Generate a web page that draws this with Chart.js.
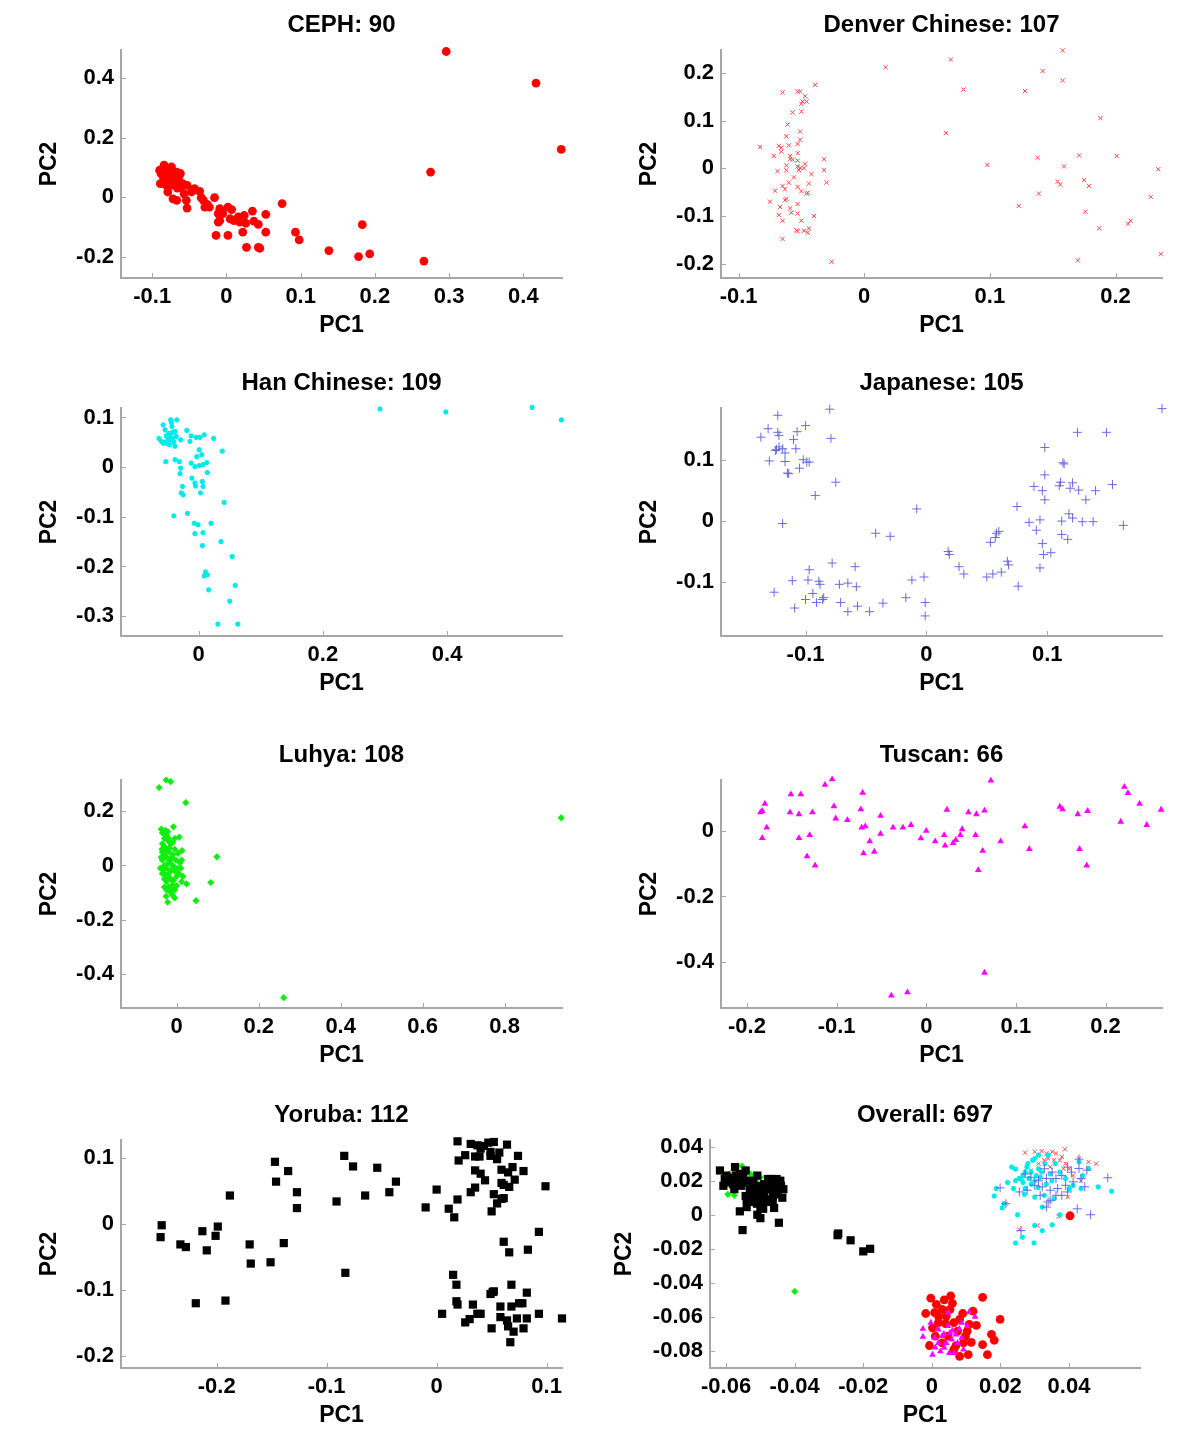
<!DOCTYPE html>
<html>
<head>
<meta charset="utf-8">
<script src="https://cdn.jsdelivr.net/npm/chart.js@4/dist/chart.umd.min.js"></script>
<style>
  body { margin: 0; background: #fff; width: 1200px; height: 1454px; position: relative; overflow: hidden; }
  canvas { position: absolute; }
</style>
</head>
<body>
<canvas id="c0" width="600" height="360" style="left:0;top:0"></canvas>
<canvas id="c1" width="600" height="360" style="left:600px;top:0"></canvas>
<canvas id="c2" width="600" height="360" style="left:0;top:358px"></canvas>
<canvas id="c3" width="600" height="360" style="left:600px;top:358px"></canvas>
<canvas id="c4" width="600" height="360" style="left:0;top:730px"></canvas>
<canvas id="c5" width="600" height="360" style="left:600px;top:730px"></canvas>
<canvas id="c6" width="600" height="360" style="left:0;top:1090px"></canvas>
<canvas id="c7" width="600" height="360" style="left:600px;top:1090px"></canvas>
<script>
// ---- data: [PC1, PC2] ----
const cephPts = [[0.296,0.489],[0.417,0.383],[0.451,0.160],[0.275,0.084],[0.183,-0.093],[0.193,-0.191],[0.178,-0.200],[0.138,-0.180],[0.266,-0.215],[0.075,-0.022],[0.093,-0.118],[0.098,-0.144],[0.053,-0.058],[0.053,-0.118],[0.043,-0.169],[0.045,-0.172],[0.027,-0.169],[0.035,-0.047],[0.037,-0.081],[0.043,-0.092],[0.022,-0.118],[0.024,-0.062],[0.020,-0.073],[0.016,-0.067],[0.007,-0.042],[0.002,-0.034],[0.005,-0.073],[0.002,-0.129],[-0.014,-0.129],[-0.009,-0.039],[-0.011,-0.056],[-0.009,-0.079],[-0.011,-0.084],[-0.016,-0.002],[-0.026,-0.025],[-0.029,-0.034],[-0.034,-0.002],[-0.036,0.019],[-0.043,0.028],[-0.054,-0.011],[-0.053,-0.037],[-0.057,0.011],[-0.053,0.039],[-0.062,0.079],[-0.067,0.045],[-0.067,-0.011],[-0.072,-0.006],[-0.079,0.017],[-0.089,0.045],[-0.090,0.090],[-0.084,0.107],[-0.078,0.067],[-0.080,0.084],[-0.072,0.079],[-0.075,0.051],[-0.085,0.067],[-0.070,0.062],[-0.065,0.056],[-0.059,0.045],[-0.074,0.101],[-0.067,0.084],[-0.081,0.039],[-0.088,0.079],[-0.062,0.034],[-0.047,0.017],[-0.031,-0.011],[-0.023,-0.034],[-0.005,-0.056],[0.010,-0.079],[0.018,-0.084],[0.026,-0.088],[-0.082,0.075],[-0.077,0.060],[-0.070,0.070],[-0.073,0.040],[-0.068,0.055],[-0.064,0.068],[-0.076,0.090],[-0.080,0.050],[-0.071,0.085],[-0.066,0.030]];

const denverPts = [[0.017,0.212],[0.069,0.228],[0.079,0.165],[0.065,0.074],[0.098,0.007],[0.158,0.247],[0.142,0.204],[0.158,0.184],[0.128,0.162],[0.188,0.105],[0.138,0.022],[0.171,0.027],[0.201,0.026],[0.159,0.004],[0.234,-0.002],[0.154,-0.028],[0.156,-0.034],[0.175,-0.025],[0.179,-0.037],[0.139,-0.053],[0.228,-0.060],[0.176,-0.091],[0.123,-0.079],[0.187,-0.126],[0.212,-0.110],[0.210,-0.116],[0.170,-0.193],[0.236,-0.180],[-0.026,-0.196],
  [-0.083,0.045],[-0.072,0.026],[-0.069,-0.006],[-0.068,0.047],[-0.065,0.159],[-0.066,0.043],[-0.066,0.035],[-0.062,0.067],[-0.061,0.092],[-0.060,0.048],[-0.059,0.026],[-0.062,0.006],[-0.062,-0.004],[-0.060,-0.030],[-0.071,-0.047],[-0.075,-0.070],[-0.065,-0.037],[-0.063,-0.044],[-0.062,-0.064],[-0.063,-0.067],[-0.067,-0.081],[-0.068,-0.098],[-0.065,-0.110],[-0.065,-0.148],[-0.059,-0.084],[-0.058,-0.093],[-0.057,0.117],[-0.053,0.051],[-0.053,0.032],[-0.053,0.161],[-0.051,0.161],[-0.051,0.077],[-0.051,0.060],[-0.050,0.119],[-0.050,0.135],[-0.049,0.140],[-0.047,0.151],[-0.046,0.140],[-0.039,0.175],[-0.053,0.016],[-0.053,0.004],[-0.052,-0.004],[-0.051,0.001],[-0.047,0.009],[-0.048,0.000],[-0.042,-0.012],[-0.044,-0.032],[-0.050,-0.048],[-0.046,-0.053],[-0.045,-0.051],[-0.053,-0.039],[-0.053,-0.075],[-0.053,-0.095],[-0.050,-0.110],[-0.054,-0.130],[-0.053,-0.132],[-0.048,-0.131],[-0.044,-0.126],[-0.045,-0.135],[-0.040,-0.100],[-0.032,0.019],[-0.032,-0.004],[-0.030,-0.030],[-0.057,0.018],[-0.059,0.019],[-0.056,-0.019]];

const hanPts = [[0.292,0.117],[0.398,0.111],[0.537,0.120],[0.584,0.095],
  [-0.064,0.058],[-0.057,0.085],[-0.054,0.075],[-0.051,0.048],[-0.048,0.068],[-0.045,0.095],[-0.043,0.082],[-0.041,0.058],[-0.038,0.042],[-0.035,0.095],[-0.045,0.055],[-0.049,0.055],[-0.038,0.072],[-0.057,0.048],[-0.053,0.011],[-0.038,0.015],[-0.031,0.011],[-0.029,0.055],[-0.019,0.074],[-0.014,0.052],[-0.012,0.063],[-0.004,0.060],[0.002,0.060],[0.009,0.065],[0.024,0.058],[0.038,0.032],[0.001,0.035],[-0.003,0.021],[0.005,0.025],[-0.012,0.008],[-0.006,0.001],[0.001,0.003],[0.007,0.005],[0.013,0.009],[-0.029,-0.002],[-0.030,-0.013],[-0.011,-0.022],[-0.006,-0.032],[-0.005,-0.038],[0.006,-0.029],[0.007,-0.039],[0.014,-0.011],[0.003,-0.052],[-0.026,-0.039],[-0.028,-0.052],[-0.025,-0.056],[0.041,-0.071],[-0.040,-0.098],[-0.018,-0.093],[-0.007,-0.113],[-0.001,-0.116],[-0.006,-0.134],[0.007,-0.132],[0.020,-0.113],[0.006,-0.158],[0.036,-0.150],[0.054,-0.180],[0.011,-0.211],[0.014,-0.217],[0.009,-0.219],[0.016,-0.247],[0.059,-0.238],[0.050,-0.270],[0.031,-0.316],[0.063,-0.316],
  [-0.050,0.060],[-0.046,0.065],[-0.042,0.070],[-0.055,0.050],[-0.047,0.045],[-0.040,0.050],[-0.036,0.062],[-0.060,0.052],[-0.052,0.063],[-0.044,0.090]];

const japanPts = [[-0.137,0.138],[-0.131,0.152],[-0.123,0.174],[-0.123,0.146],[-0.122,0.141],[-0.124,0.118],[-0.122,0.122],[-0.119,0.119],[-0.117,0.112],[-0.125,0.116],[-0.130,0.099],[-0.117,0.098],[-0.115,0.079],[-0.114,0.078],[-0.110,0.134],[-0.107,0.147],[-0.108,0.119],[-0.105,0.087],[-0.102,0.101],[-0.100,0.157],[-0.099,0.097],[-0.097,0.097],[-0.080,0.184],[-0.079,0.136],[-0.075,0.064],[-0.092,0.042],[-0.119,-0.004],
  [-0.126,-0.117],[-0.111,-0.098],[-0.109,-0.143],[-0.100,-0.129],[-0.097,-0.080],[-0.098,-0.097],[-0.094,-0.119],[-0.091,-0.134],[-0.089,-0.099],[-0.088,-0.104],[-0.086,-0.129],[-0.085,-0.126],[-0.078,-0.069],[-0.072,-0.104],[-0.071,-0.134],[-0.065,-0.102],[-0.065,-0.149],[-0.059,-0.075],[-0.058,-0.108],[-0.057,-0.140],[-0.047,-0.149],[-0.042,-0.020],[-0.036,-0.135],[-0.030,-0.025],[-0.017,-0.126],[-0.012,-0.097],[-0.008,0.020],[-0.002,-0.092],[-0.001,-0.134],[-0.001,-0.156],
  [0.018,-0.050],[0.019,-0.055],[0.027,-0.075],[0.031,-0.087],[0.050,-0.092],[0.055,-0.087],[0.062,-0.084],[0.067,-0.066],[0.068,-0.072],[0.076,-0.107],[0.053,-0.035],[0.057,-0.027],[0.060,-0.017],[0.058,-0.020],[0.075,0.024],[0.085,-0.002],[0.091,-0.015],[0.094,0.002],[0.094,-0.077],[0.096,-0.037],[0.097,-0.055],[0.103,-0.052],[0.089,0.057],[0.096,0.050],[0.098,0.035],[0.098,0.076],[0.098,0.121],[0.110,0.058],[0.111,0.064],[0.112,-0.022],[0.112,0.000],[0.113,0.096],[0.114,0.094],[0.117,-0.030],[0.118,0.012],[0.119,0.054],[0.121,0.063],[0.121,0.005],[0.125,0.146],[0.126,0.051],[0.129,-0.001],[0.132,0.035],[0.138,-0.001],[0.140,0.050],[0.149,0.146],[0.154,0.060],[0.163,-0.007],[0.195,0.185]];

const luhyaPts = [[0.938,0.176],[0.261,-0.489],[-0.043,0.288],[-0.026,0.316],[-0.015,0.310],[0.022,0.232],[0.098,0.032],[0.083,-0.063],[0.047,-0.130],[0.024,-0.068],[-0.008,0.143],[0.006,0.105],[0.013,0.055],[-0.038,0.134],[-0.022,-0.136],[-0.026,-0.114],
  [-0.035,0.120],[-0.030,0.100],[-0.025,0.110],[-0.020,0.090],[-0.035,0.080],[-0.030,0.070],[-0.015,0.080],[-0.010,0.085],[-0.025,0.060],[-0.020,0.050],[-0.035,0.050],[-0.030,0.040],[-0.010,0.040],[-0.005,0.060],[-0.025,0.030],[-0.015,0.020],[-0.035,0.020],[-0.020,0.010],[-0.030,0.000],[-0.010,0.000],[-0.025,-0.010],[-0.015,-0.020],[-0.035,-0.030],[-0.020,-0.030],[-0.005,-0.020],[0.000,-0.040],[-0.030,-0.050],[-0.015,-0.050],[-0.025,-0.060],[-0.010,-0.070],[-0.020,-0.080],[-0.005,-0.090],[-0.015,-0.100],[-0.010,-0.110],[-0.005,-0.120],[0.005,-0.030],[0.010,-0.010],[0.012,0.020],[-0.040,-0.010],[-0.038,0.030],[-0.022,0.125],[-0.028,0.130],[-0.018,0.065],[-0.012,0.030],[-0.008,-0.005],[-0.032,-0.015],[-0.028,-0.035],[-0.018,-0.045],[-0.008,-0.055],[0.002,-0.010],[0.008,0.010],[-0.020,0.100],[-0.005,0.100],[-0.030,-0.080],[-0.025,-0.090],[-0.012,-0.085],[0.000,-0.075],[0.015,-0.040],[0.012,-0.060],[-0.002,0.020],[0.003,0.045],[-0.036,0.060]];

const tuscanPts = [[-0.185,0.058],[-0.183,0.062],[-0.180,0.084],[-0.178,0.011],[-0.183,-0.021],[-0.151,0.113],[-0.152,0.058],[-0.140,0.113],[-0.142,0.052],[-0.142,-0.021],[-0.127,0.058],[-0.130,-0.012],[-0.133,-0.077],[-0.124,-0.105],[-0.113,0.142],[-0.105,0.159],[-0.103,0.076],[-0.101,0.039],[-0.088,0.034],[-0.071,0.118],[-0.073,0.067],[-0.072,0.011],[-0.068,0.015],[-0.063,-0.031],[-0.070,-0.068],[-0.058,-0.063],[-0.051,0.047],[-0.051,-0.008],[-0.037,0.011],[-0.026,0.011],[-0.017,0.019],[-0.006,-0.022],[0.000,0.001],[0.010,-0.031],[0.020,-0.012],[0.021,-0.044],[0.023,0.066],[0.030,-0.036],[0.033,-0.027],[0.038,-0.012],[0.040,0.006],[0.047,0.058],[0.055,-0.012],[0.056,0.052],[0.058,-0.119],[0.063,-0.060],[0.065,0.063],[0.072,0.155],[0.083,-0.031],[0.065,-0.434],[-0.021,-0.494],[-0.039,-0.504],[0.110,0.015],[0.115,-0.055],[0.149,0.075],[0.152,0.067],[0.169,0.052],[0.171,-0.055],[0.180,0.062],[0.179,-0.105],[0.217,0.029],[0.221,0.136],[0.225,0.117],[0.238,0.084],[0.246,0.019],[0.262,0.066]];

const yorubaPts = [[-0.250,-0.002],[-0.251,-0.020],[-0.233,-0.031],[-0.228,-0.035],[-0.213,-0.011],[-0.209,-0.040],[-0.199,-0.004],[-0.201,-0.018],[-0.188,0.043],[-0.219,-0.120],[-0.192,-0.116],[-0.170,-0.031],[-0.169,-0.060],[-0.151,-0.058],[-0.147,0.094],[-0.146,0.064],[-0.139,-0.029],[-0.135,0.080],[-0.127,0.048],[-0.127,0.024],[-0.091,0.034],[-0.084,0.103],[-0.083,-0.074],[-0.076,0.087],[-0.065,0.043],[-0.054,0.085],[-0.043,0.048],[-0.037,0.064],[-0.010,0.025],[0.000,0.052],[0.011,0.023],[0.016,0.010],[0.019,0.037],[0.019,0.125],[0.020,0.096],[0.026,0.104],[0.031,0.121],[0.031,0.048],[0.035,0.055],[0.035,0.081],[0.035,0.102],[0.039,0.102],[0.037,0.119],[0.040,0.114],[0.040,0.076],[0.044,0.066],[0.043,0.118],[0.047,0.123],[0.049,0.109],[0.049,0.103],[0.052,0.124],[0.050,0.019],[0.052,0.045],[0.055,0.098],[0.057,0.108],[0.055,0.031],[0.059,0.038],[0.061,0.039],[0.059,0.082],[0.059,0.062],[0.061,0.059],[0.064,0.120],[0.065,0.078],[0.066,0.056],[0.069,0.086],[0.071,0.067],[0.074,0.103],[0.079,0.080],[0.099,0.057],[0.061,-0.027],[0.066,-0.043],[0.083,-0.039],[0.093,-0.012],
  [0.005,-0.136],[0.015,-0.077],[0.018,-0.092],[0.018,-0.117],[0.019,-0.122],[0.026,-0.149],[0.030,-0.144],[0.033,-0.122],[0.037,-0.136],[0.040,-0.136],[0.049,-0.106],[0.051,-0.103],[0.052,-0.102],[0.050,-0.158],[0.058,-0.125],[0.058,-0.141],[0.064,-0.146],[0.065,-0.155],[0.067,-0.179],[0.068,-0.092],[0.068,-0.125],[0.070,-0.163],[0.073,-0.143],[0.075,-0.120],[0.078,-0.120],[0.079,-0.158],[0.082,-0.104],[0.082,-0.143],[0.093,-0.136],[0.114,-0.143]];

// overall panel, one array per population
const allCeph = [[0.0055,-0.0477],[-0.0003,-0.049],[0.0036,-0.050],[0.0013,-0.0526],[0.003,-0.0556],[0.0148,-0.0485],[-0.0018,-0.058],[0.012,-0.0566],[0.0199,-0.0615],[0.0109,-0.0644],[0.0174,-0.0703],[0.0182,-0.0737],[0.0148,-0.0763],[0.0162,-0.0822],[0.0081,-0.0832],[0.0106,-0.0822],[-0.0007,-0.0768],[0.0092,-0.0753],[0.0064,-0.0634],[0.0042,-0.0595],[0.0019,-0.0634],[0.0002,-0.0664],[0.0075,-0.0684],[0.0047,-0.0713],[0.003,-0.0753],[0.0098,-0.0713],[0.0008,-0.0575],[0.0053,-0.0556],[0.0081,-0.0615],[0.0103,-0.0684],[0.001,-0.0713],[0.0064,-0.0792],[0.0403,-0.0006],
  [0.002,-0.060],[0.006,-0.052],[0.009,-0.058],[0.004,-0.064],[0.007,-0.077],[0.0115,-0.075],[0.013,-0.065]];
const allDenver = [[0.0272,0.0365],[0.030,0.037],[0.032,0.0374],[0.0334,0.036],[0.0351,0.037],[0.0362,0.036],[0.0379,0.034],[0.0388,0.0384],[0.0328,0.032],[0.0339,0.033],[0.0356,0.032],[0.0373,0.032],[0.039,0.030],[0.0401,0.027],[0.0479,0.030],[0.0457,0.031],[0.0429,0.033],[0.0216,0.0065],[0.0255,-0.0087],[0.0308,-0.0063],[0.0396,0.0104],[0.037,-0.001],[0.0384,0.027],[0.0311,0.030],[0.0289,0.026],[0.0345,0.028],[0.0412,0.023],[0.0435,0.020]];
const allHan = [[0.0182,0.011],[0.0210,0.0065],[0.0205,0.004],[0.0244,0.0268],[0.0238,0.0154],[0.025,0.000],[0.0244,-0.0166],[0.0264,-0.0132],[0.0298,-0.0166],[0.030,-0.0063],[0.0322,-0.0093],[0.0351,-0.0059],[0.0373,0.000],[0.0266,0.023],[0.0289,0.025],[0.0311,0.027],[0.0266,0.019],[0.0283,0.0213],[0.030,0.020],[0.0316,0.022],[0.0334,0.018],[0.0277,0.028],[0.0294,0.032],[0.0311,0.035],[0.0339,0.035],[0.0255,0.0213],[0.0272,0.0154],[0.030,0.0104],[0.0328,0.0114],[0.0356,0.0095],[0.039,0.0213],[0.0412,0.0173],[0.0435,0.0154],[0.0457,0.0272],[0.0485,0.0164],[0.0524,0.0138],[0.0429,0.031],[0.0244,0.020],[0.0272,0.025],[0.0305,0.023],[0.0345,0.024],[0.0373,0.025],[0.0401,0.0154],[0.044,0.023],[0.0322,0.0045],[0.0188,0.0154],[0.0221,0.019],[0.0233,0.028],
  [0.028,0.030],[0.030,0.033],[0.033,0.030],[0.026,0.021],[0.029,0.018],[0.032,0.025],[0.035,0.020],[0.031,0.016],[0.027,0.012],[0.036,0.030]];
const allJapan = [[0.0199,0.0158],[0.0216,0.0065],[0.026,-0.0093],[0.0463,0.000],[0.0513,0.0217],[0.0424,0.0035],[0.0334,0.0045],[0.0339,0.0075],[0.0379,0.0114],[0.0278,0.0144],[0.030,0.0173],[0.0322,0.0164],[0.0345,0.0144],[0.0367,0.0154],[0.039,0.0173],[0.0412,0.0193],[0.0435,0.0213],[0.0452,0.0262],[0.0429,0.0272],[0.0407,0.025],[0.0379,0.023],[0.0362,0.0213],[0.0334,0.0213],[0.0311,0.020],[0.0289,0.022],[0.0272,0.024],[0.0429,0.0327],[0.0351,0.025],[0.0396,0.028],[0.0328,0.027],[0.0362,0.0114],[0.0396,0.0134],[0.0345,0.0085],[0.0255,0.0134],[0.0316,0.0114],[0.0446,0.0164]];
const allLuhya = [[-0.0576,0.027],[-0.0554,0.0286],[-0.058,0.0154],[-0.0576,0.0114],[-0.052,0.023],[-0.051,0.021],[-0.0565,0.025],[-0.0588,0.021],[-0.056,0.020],[-0.054,0.018],[-0.053,0.024],[-0.050,0.022],[-0.059,0.024],[-0.0595,0.012],[-0.040,-0.045]];
const allTuscan = [[-0.0026,-0.0717],[-0.0026,-0.067],[0.0002,-0.0822],[0.0051,-0.0812],[0.0126,-0.0599],[0.0109,-0.0571],[0.0019,-0.0674],[0.003,-0.0713],[0.0042,-0.0753],[0.0058,-0.0733],[0.007,-0.0703],[0.0047,-0.0654],[0.0036,-0.0782],[0.0019,-0.0753],[0.0008,-0.0723],[0.0075,-0.0753],[0.0087,-0.0723],[0.0053,-0.0693],[0.0047,-0.0575],[0.0087,-0.0634],[0.0103,-0.0654],[-0.0003,-0.0634],[0.0092,-0.0792],[0.0064,-0.0812],[0.0025,-0.0802],
  [0.001,-0.078],[0.006,-0.068],[0.0035,-0.070],[0.008,-0.067]];
const allYoruba = [[-0.0618,0.026],[-0.0604,0.021],[-0.0608,0.017],[-0.0576,0.015],[-0.0574,0.028],[-0.0543,0.026],[-0.056,0.002],[-0.0552,-0.009],[-0.054,0.0045],[-0.051,0.0065],[-0.0509,0.000],[-0.050,-0.002],[-0.0492,0.0035],[-0.0464,0.0075],[-0.0446,-0.0047],[-0.0436,0.010],[-0.0433,0.015],[-0.0442,0.020],[-0.0478,0.021],[-0.0476,0.015],[-0.0521,0.011],[-0.0521,0.019],[-0.0531,0.015],[-0.0556,0.017],[-0.0565,0.021],[-0.0584,0.0217],[-0.0593,0.019],[-0.0543,0.011],[-0.050,0.011],[-0.0458,0.015],[-0.0451,0.018],[-0.0487,0.015],[-0.0503,0.0144],[-0.0464,0.011],[-0.0526,0.0075],[-0.0487,0.0075],[-0.056,0.024],[-0.0571,0.023],[-0.0552,0.019],[-0.0509,0.023],[-0.0489,0.018],[-0.047,0.021],[-0.0453,0.021],[-0.0275,-0.012],[-0.0273,-0.011],[-0.0237,-0.015],[-0.020,-0.0215],[-0.018,-0.020],
  [-0.058,0.018],[-0.055,0.022],[-0.053,0.020],[-0.051,0.017],[-0.049,0.013],[-0.047,0.018],[-0.045,0.012],[-0.052,0.013],[-0.054,0.009],[-0.048,0.009],[-0.046,0.004],[-0.050,0.004],[-0.044,0.017],[-0.057,0.020],[-0.060,0.023]];

// titles, axis ranges [xmin, xmax, ymin, ymax], tick values
const panelTitles = ['CEPH: 90', 'Denver Chinese: 107', 'Han Chinese: 109', 'Japanese: 105', 'Luhya: 108', 'Tuscan: 66', 'Yoruba: 112', 'Overall: 697'];
const panelRanges = [[-0.142,0.452,-0.272,0.494],[-0.114,0.237,-0.230,0.248],[-0.125,0.585,-0.340,0.119],[-0.170,0.195,-0.189,0.186],[-0.136,0.940,-0.527,0.316],[-0.229,0.263,-0.542,0.157],[-0.287,0.114,-0.218,0.127],[-0.0647,0.0607,-0.090,0.0439]];
const xTickVals = [[-0.1,0,0.1,0.2,0.3,0.4],[-0.1,0,0.1,0.2],[0,0.2,0.4],[-0.1,0,0.1],[0,0.2,0.4,0.6,0.8],[-0.2,-0.1,0,0.1,0.2],[-0.2,-0.1,0,0.1],[-0.06,-0.04,-0.02,0,0.02,0.04]];
const yTickVals = [[-0.2,0,0.2,0.4],[-0.2,-0.1,0,0.1,0.2],[-0.3,-0.2,-0.1,0,0.1],[-0.1,0,0.1],[-0.4,-0.2,0,0.2],[-0.4,-0.2,0],[-0.2,-0.1,0,0.1],[-0.08,-0.06,-0.04,-0.02,0,0.02,0.04]];

// marker look per population (MATLAB style markers)
const popStyles = {
  ceph:   { pointStyle: 'circle',   pointRadius: 4.4, backgroundColor: '#ff0000', borderColor: '#ff0000', pointBorderWidth: 0 },
  denver: { pointStyle: 'crossRot', pointRadius: 3,   backgroundColor: '#ee4444', borderColor: '#ee4444', pointBorderWidth: 1 },
  han:    { pointStyle: 'star',     pointRadius: 2.6, backgroundColor: '#00eaea', borderColor: '#00eaea', pointBorderWidth: 1.6 },
  japan:  { pointStyle: 'cross',    pointRadius: 4.5, backgroundColor: '#6a6ae0', borderColor: '#6a6ae0', pointBorderWidth: 1 },
  luhya:  { pointStyle: 'rectRot',  pointRadius: 3.6, backgroundColor: '#0fee0f', borderColor: '#0fee0f', pointBorderWidth: 0 },
  tuscan: { pointStyle: 'triangle', pointRadius: 3.9, backgroundColor: '#ff00ff', borderColor: '#ff00ff', pointBorderWidth: 0 },
  yoruba: { pointStyle: 'rect',     pointRadius: 5.8, backgroundColor: '#000000', borderColor: '#000000', pointBorderWidth: 0 }
};

const FONT = '"Liberation Sans", Arial, Helvetica, sans-serif';
const AXIS_GRAY = '#a6a6a6';

const toXY = pts => pts.map(p => ({ x: p[0], y: p[1] }));
const fmt = v => String(+(+v).toFixed(4));

function ds(pts, style, order) {
  return Object.assign({ data: toXY(pts), clip: false, order: order || 0, pointHoverRadius: 0 }, style);
}

// title above the plot area + little inward tick marks like MATLAB
const panelDecor = {
  id: 'panelDecor',
  afterDraw(chart, args, opts) {
    const { ctx, chartArea: a, scales } = chart;
    const x = scales.x, y = scales.y;
    ctx.save();
    ctx.strokeStyle = AXIS_GRAY;
    ctx.lineWidth = 1;
    ctx.beginPath();
    x.ticks.forEach(t => {
      const px = Math.round(x.getPixelForValue(t.value)) + 0.5;
      ctx.moveTo(px, a.bottom);
      ctx.lineTo(px, a.bottom - 5);
    });
    y.ticks.forEach(t => {
      const py = Math.round(y.getPixelForValue(t.value)) + 0.5;
      ctx.moveTo(a.left, py);
      ctx.lineTo(a.left + 5, py);
    });
    ctx.stroke();
    ctx.fillStyle = '#000';
    ctx.font = 'bold 24px ' + FONT;
    ctx.textAlign = 'center';
    ctx.textBaseline = 'middle';
    ctx.fillText(opts.text, (a.left + a.right) / 2, 25);
    ctx.restore();
  }
};

function axis(isX, min, max, tickVals, fitSize, titlePad) {
  return {
    type: 'linear',
    min: min,
    max: max,
    grid: { display: false, drawTicks: false },
    border: { display: true, color: AXIS_GRAY, width: 2 },
    ticks: {
      autoSkip: false,
      maxRotation: 0,
      color: '#000',
      padding: isX ? 6 : 7,
      font: { family: FONT, size: 22, weight: 'bold' },
      callback: v => fmt(v)
    },
    afterBuildTicks: s => { s.ticks = tickVals.map(v => ({ value: v })); },
    afterFit: s => { if (isX) s.height = fitSize; else s.width = fitSize; },
    title: {
      display: true,
      text: isX ? 'PC1' : 'PC2',
      color: '#000',
      font: { family: FONT, size: 23, weight: 'bold' },
      padding: isX ? { top: 0, bottom: titlePad } : { top: titlePad, bottom: 0 }
    }
  };
}

function makePanel(i, datasets, leftW, rightPad, ytitlePad) {
  const r = panelRanges[i];
  new Chart(document.getElementById('c' + i), {
    type: 'scatter',
    data: { datasets: datasets },
    options: {
      responsive: false,
      animation: false,
      events: [],
      layout: { padding: { top: 50, right: rightPad, bottom: 0, left: 0 } },
      scales: {
        x: axis(true, r[0], r[1], xTickVals[i], 82, 21),
        y: axis(false, r[2], r[3], yTickVals[i], leftW, ytitlePad)
      },
      plugins: {
        legend: { display: false },
        tooltip: { enabled: false },
        panelDecor: { text: panelTitles[i] }
      }
    },
    plugins: [panelDecor]
  });
}

makePanel(0, [ds(cephPts, popStyles.ceph)], 121, 38, 36);
makePanel(1, [ds(denverPts, popStyles.denver)], 121, 38, 36);
makePanel(2, [ds(hanPts, popStyles.han)], 121, 38, 36);
makePanel(3, [ds(japanPts, popStyles.japan)], 121, 38, 36);
makePanel(4, [ds(luhyaPts, popStyles.luhya)], 121, 38, 36);
makePanel(5, [ds(tuscanPts, popStyles.tuscan)], 121, 38, 36);
makePanel(6, [ds(yorubaPts, popStyles.yoruba)], 121, 38, 36);
// later populations drawn on top (lower order = drawn last)
makePanel(7, [
  ds(allCeph, popStyles.ceph, 7),
  ds(allDenver, popStyles.denver, 6),
  ds(allHan, popStyles.han, 5),
  ds(allJapan, popStyles.japan, 4),
  ds(allLuhya, popStyles.luhya, 3),
  ds(allTuscan, popStyles.tuscan, 2),
  ds(allYoruba, popStyles.yoruba, 1)
], 110, 60, 11);
</script>
</body>
</html>
